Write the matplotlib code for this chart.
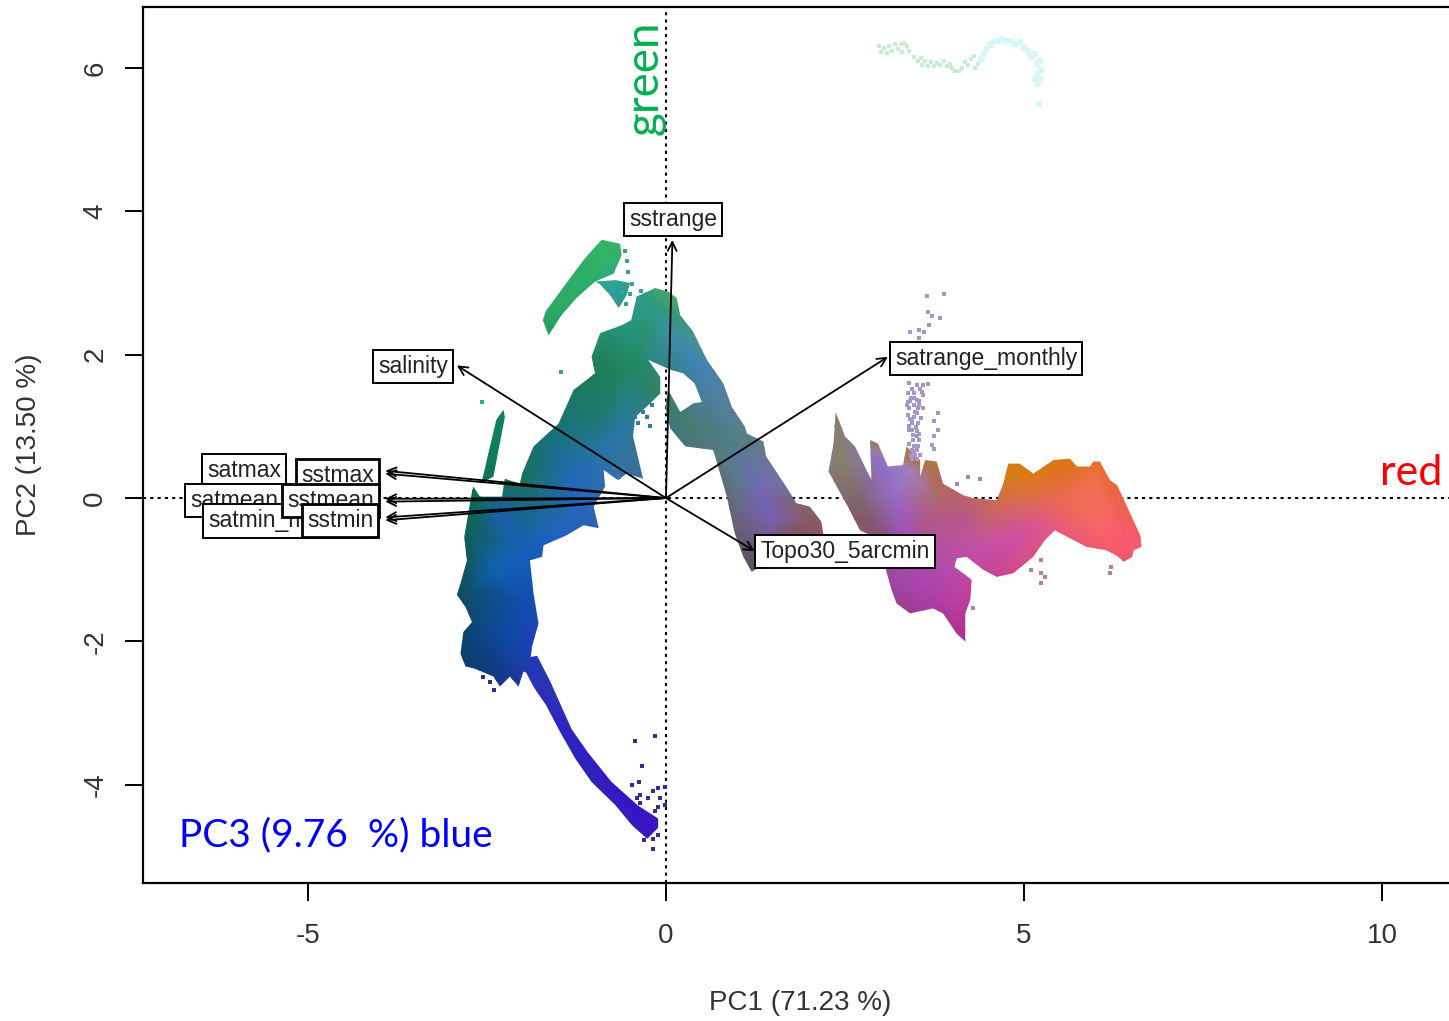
import numpy as np
import matplotlib
matplotlib.use('Agg')
import matplotlib.pyplot as plt
from matplotlib.collections import TriMesh
from matplotlib.colors import to_rgba
from matplotlib.patches import Polygon
from matplotlib.tri import Triangulation

# biplot loadings
var_names = ['satmax', 'satmean', 'satmin_monthly', 'sstmax', 'sstmean', 'sstmin',
             'salinity', 'sstrange', 'satrange_monthly', 'Topo30_5arcmin']
load_x = [-3.92, -3.92, -3.92, -3.92, -3.92, -3.92, -2.92, 0.09, 3.10, 1.24]
load_y = [0.34, -0.05, -0.31, 0.38, -0.01, -0.27, 1.85, 3.60, 1.97, -0.74]
label_x = [-5.89, -6.03, -5.27, -4.59, -4.68, -4.55, -3.53, 0.10, 4.47, 2.50]
label_y = [0.38, -0.04, -0.32, 0.31, -0.03, -0.31, 1.84, 3.88, 1.95, -0.74]

# outlines of the dense parts of the point cloud
streak_top = [(-0.90, 3.60), (-0.64, 3.55), (-0.62, 3.39), (-0.73, 3.13), (-0.99, 3.02),
              (-1.25, 2.79), (-1.46, 2.55), (-1.64, 2.27), (-1.72, 2.48), (-1.62, 2.79),
              (-1.46, 3.07), (-1.20, 3.27)]
wisp_top = [(-0.99, 3.02), (-0.70, 3.04), (-0.50, 3.00), (-0.55, 2.83), (-0.66, 2.65),
            (-0.78, 2.83), (-0.92, 2.98)]
streak_left = [(-2.27, 1.23), (-2.25, 1.13), (-2.41, 0.30), (-2.58, 0.20), (-2.53, 0.41),
               (-2.37, 1.09)]
left_mass = [(-0.41, 2.81), (-0.39, 2.53), (-0.62, 2.41), (-0.92, 2.30), (-1.04, 1.97),
             (-0.99, 1.74), (-1.29, 1.51), (-1.50, 1.04), (-1.85, 0.72), (-2.01, 0.34),
             (-2.04, 0.20), (-2.25, 0.27), (-2.29, 0.02), (-2.60, 0.02), (-2.69, 0.16),
             (-2.85, 0.23), (-2.78, -0.12), (-2.83, -0.45), (-2.78, -0.87), (-2.87, -1.19),
             (-2.92, -1.35), (-2.80, -1.52), (-2.71, -1.73), (-2.83, -1.87), (-2.87, -2.17),
             (-2.80, -2.35), (-2.67, -2.38), (-2.41, -2.49), (-2.32, -2.63), (-2.18, -2.49),
             (-2.06, -2.63), (-1.99, -2.42), (-1.92, -2.45), (-1.87, -2.07), (-1.78, -1.75),
             (-1.85, -1.33), (-1.90, -0.87), (-1.73, -0.82), (-1.71, -0.66), (-1.39, -0.52),
             (-1.15, -0.38), (-0.94, -0.42), (-1.01, -0.12), (-0.85, 0.16), (-0.87, 0.39),
             (-0.67, 0.25), (-0.55, 0.34), (-0.32, 0.27), (-0.46, 0.86), (-0.43, 1.13),
             (-0.22, 1.32), (-0.08, 1.46), (-0.08, 1.69), (-0.25, 1.93), (-0.10, 2.30)]
tail = [(-2.05, -2.25), (-1.80, -2.20), (-1.62, -2.55), (-1.32, -3.22), (-1.09, -3.55),
        (-0.76, -3.96), (-0.39, -4.29), (-0.11, -4.47), (-0.11, -4.60), (-0.27, -4.76),
        (-0.43, -4.62), (-0.71, -4.28), (-1.04, -3.96), (-1.27, -3.63), (-1.48, -3.26),
        (-1.68, -2.88), (-1.85, -2.63)]
right_arm = [(-0.41, 2.81), (-0.15, 2.93), (0.03, 2.88), (0.15, 2.79), (0.20, 2.55),
             (0.38, 2.32), (0.57, 1.93), (0.80, 1.60), (0.92, 1.27), (1.10, 1.00),
             (1.13, 0.90), (1.36, 0.79), (1.40, 0.58), (1.71, 0.11), (1.82, -0.07),
             (2.01, -0.12), (2.17, -0.33), (2.20, -0.52), (1.60, -0.75), (1.24, -1.00),
             (1.20, -1.03), (1.08, -0.82), (0.96, -0.49), (0.85, 0.02), (0.66, 0.67),
             (0.27, 0.72), (0.06, 0.97), (-0.01, 1.27), (0.03, 1.51), (0.20, 1.20),
             (0.38, 1.32), (0.50, 1.34), (0.40, 1.60), (0.24, 1.74), (0.06, 1.79),
             (-0.25, 1.93), (-0.55, 2.20)]
right_mass = [(2.37, 1.20), (2.50, 0.86), (2.64, 0.72), (2.87, 0.25), (2.85, 0.81),
              (2.96, 0.76), (3.10, 0.44), (3.31, 0.46), (3.36, 0.72), (3.55, 0.53),
              (3.55, 0.30), (3.62, 0.53), (3.78, 0.51), (3.87, 0.20), (4.15, 0.04),
              (4.29, 0.00), (4.62, -0.03), (4.71, 0.20), (4.78, 0.48), (4.94, 0.48),
              (5.13, 0.34), (5.41, 0.53), (5.64, 0.55), (5.74, 0.44), (5.92, 0.44),
              (5.97, 0.51), (6.06, 0.51), (6.20, 0.25), (6.46, 0.07), (6.55, -0.12),
              (6.62, -0.40), (6.64, -0.68), (6.53, -0.73), (6.48, -0.96), (6.29, -0.80),
              (6.15, -0.73), (5.87, -0.68), (5.64, -0.56), (5.43, -0.45), (5.29, -0.59),
              (5.13, -0.82), (4.85, -1.05), (4.62, -1.10), (4.43, -1.00), (4.20, -0.82),
              (4.06, -0.84), (4.03, -0.96), (4.27, -1.14), (4.25, -1.42), (4.18, -1.61),
              (4.18, -2.00), (4.06, -1.89), (3.87, -1.61), (3.73, -1.54), (3.41, -1.61),
              (3.22, -1.47), (3.15, -1.28), (3.06, -0.96), (2.90, -0.54), (2.71, -0.45),
              (2.54, -0.12), (2.27, 0.37), (2.34, 0.76)]
outlines = [streak_top, wisp_top, streak_left, left_mass, tail, right_arm, right_mass]

# colours sampled from the cloud (x, y, colour)
sample_x = [-0.75, -1.5, -0.7, -0.15, 0.1, 0.4, -0.46, -0.9, -0.9, -0.6, -1.6, -1.0, -1.3,
            -2.0, -2.7, -2.4, -2.3, -1.3, -2.7, -2.0, -2.4, -2.85, -2.0, -2.8, -2.3, -2.0,
            -2.4, -1.8, -1.2, -0.5, -0.2, 0.7, 0.4, 0.9, 1.0, 1.3, 1.0, 1.5, 1.2, 2.0,
            2.37, 2.5, 2.7, 2.85, 3.0, 3.2, 3.4, 3.3, 3.7, 3.8, 3.65, 4.2, 4.3, 3.5, 4.0,
            4.15, 4.6, 5.0, 4.7, 4.85, 5.4, 5.6, 6.0, 6.0, 6.4, 6.3, 5.7, 5.2,
            -2.95, -2.3, -1.75, -0.9, -0.2, 4.2, 6.7, 6.1, -2.9]
sample_y = [3.4, 2.6, 2.95, 2.7, 2.3, 1.9, 1.88, 1.9, 1.2, 1.0, 0.8, 0.5, 0.3,
            0.2, 0.1, 0.8, -0.2, -0.3, -0.5, -0.7, -1.0, -1.3, -1.4, -2.1, -1.9, -2.3,
            -2.4, -2.7, -3.5, -4.3, -4.6, 1.4, 0.95, 0.8, 0.3, 0.1, -0.4, -0.3, -0.95, -0.3,
            1.0, 0.5, 0.0, -0.3, 0.5, 0.0, 0.4, -0.5, 0.4, 0.0, -0.3, -0.2, -0.7, -1.2, -1.5,
            -1.9, -1.0, -0.5, 0.0, 0.35, 0.0, 0.4, 0.2, -0.3, -0.5, -0.8, -0.4, -0.3,
            -1.35, 1.3, 2.5, 3.65, -4.8, -2.05, -0.7, 0.6, -2.4]
sample_col = ['#33b565', '#2aa868', '#2f9fa0', '#2f9a80', '#3d8fa8', '#3d82b5', '#1f8a60',
              '#208055', '#1f7a70', '#2878a0', '#1a6f80', '#2a70b0', '#2268b8', '#1a7060',
              '#107050', '#108060', '#1a60a8', '#2565c0', '#116060', '#1860b8', '#1060b0',
              '#0f4f5f', '#1050b0', '#0c3f70', '#0f48a0', '#1a40a8', '#103a80', '#2a30b8',
              '#3020c8', '#3a10c8', '#3a18c0', '#4f7f9f', '#4a7a70', '#4f7f88', '#5f7a90',
              '#7068b8', '#6a6075', '#7a60b0', '#5f4f60', '#8a5a60', '#8a8070', '#858070',
              '#7d6a70', '#805a68', '#9070c8', '#9a68c8', '#a080c0', '#a050b8', '#b07050',
              '#b06868', '#b05a88', '#b85a80', '#c050a8', '#a845b0', '#b83fa0', '#b03090',
              '#c84898', '#d050a0', '#d07048', '#d88010', '#e86a50', '#e07020', '#f07050',
              '#f56a60', '#f85a70', '#f55a70', '#ee6070', '#dc5a80', '#0f4f5f', '#108060',
              '#2aa868', '#33b565', '#3a18c0', '#b03090', '#f85a70', '#e07020', '#0c3f70']

# stray points outside the dense parts
violet_x = [3.64, 3.88, 3.66, 3.71, 3.83, 3.68, 3.54, 3.61, 3.41, 3.53, 3.40, 3.50, 3.59, 3.66,
            3.38, 3.47, 3.57, 3.38, 3.50, 3.59, 3.40, 3.52, 3.59, 3.38, 3.47, 3.43, 3.52, 3.40,
            3.50, 3.45, 3.54, 3.43, 3.50, 3.80, 3.75, 3.80, 3.75, 3.71, 3.75, 3.44, 3.55, 3.42,
            3.53, 3.46, 3.36, 3.48, 3.56, 3.41, 3.49, 3.39, 3.45, 3.46, 3.52, 3.42, 3.48, 3.55,
            3.44, 3.50, 3.40, 3.47, 3.53, 3.44, 3.50, 3.41, 3.47, 3.53, 3.44, 3.50]
violet_y = [2.82, 2.85, 2.60, 2.54, 2.51, 2.41, 2.34, 2.32, 2.31, 2.23, 1.60, 1.58, 1.58, 1.59,
            1.46, 1.46, 1.48, 1.34, 1.37, 1.44, 1.25, 1.25, 1.25, 1.16, 1.13, 1.04, 1.04, 0.95,
            0.93, 0.81, 0.81, 0.67, 0.67, 1.18, 1.07, 0.95, 0.86, 0.74, 0.69, 1.52, 1.52, 1.40,
            1.30, 1.30, 1.30, 1.20, 1.12, 1.10, 0.99, 1.00, 0.88, 0.73, 0.73, 0.60, 0.60, 0.60,
            0.54, 0.54, 0.76, 0.66, 0.90, 1.08, 1.18, 1.36, 1.40, 1.36, 0.95, 0.87]
pink_x = [4.22, 4.38, 4.06, 5.24, 5.24, 5.29, 5.24, 5.10, 6.22, 6.20, 4.29]
pink_y = [0.30, 0.27, 0.20, -0.87, -1.05, -1.10, -1.19, -1.00, -0.96, -1.05, -1.54]
indigo_x = [-0.15, -0.43, -0.33, -0.38, -0.48, -0.01, -0.11, -0.18, -0.08, -0.25, -0.41, -0.36,
            -0.36, -0.01, -0.11, -0.15, -0.11, -0.18, -0.31, -0.18, -2.55, -2.46, -2.40]
indigo_y = [-3.32, -3.39, -3.74, -3.96, -4.00, -4.03, -4.04, -4.08, -4.18, -4.18, -4.19, -4.14,
            -4.26, -4.28, -4.31, -4.36, -4.70, -4.75, -4.77, -4.90, -2.49, -2.56, -2.68]
teal_x = [-0.57, -0.55, -0.53, -0.35, -0.47, -0.50, -0.56, -1.46, -2.57, -0.70, -0.62]
teal_y = [3.44, 3.30, 3.16, 2.89, 2.98, 2.85, 2.70, 1.76, 1.34, 2.78, 2.87]
speck_x = [-0.43, -0.32, -0.39, -0.22, -0.20, -0.27, -0.60, -0.72, -0.66]
speck_y = [1.13, 1.20, 1.04, 1.00, 1.30, 1.13, 0.42, 0.42, 0.30]
mint_x = [2.98, 3.00, 3.05, 3.08, 3.12, 3.16, 3.20, 3.24, 3.28, 3.33, 3.36, 3.30, 3.40, 3.47,
          3.52, 3.56, 3.58, 3.62, 3.66, 3.70, 3.74, 3.78, 3.83, 3.88, 3.92, 3.96, 4.00, 4.04,
          4.09, 4.13, 4.17, 4.22, 4.26, 4.31, 4.36, 4.30]
mint_y = [6.30, 6.22, 6.28, 6.21, 6.30, 6.24, 6.33, 6.27, 6.33, 6.35, 6.30, 6.22, 6.24, 6.15,
          6.10, 6.14, 6.04, 6.10, 6.03, 6.08, 6.02, 6.07, 6.04, 6.09, 6.03, 6.06, 6.00, 5.96,
          5.96, 6.00, 6.08, 6.04, 6.12, 6.00, 6.05, 6.17]
cyan_x = [4.40, 4.44, 4.48, 4.53, 4.58, 4.64, 4.70, 4.76, 4.82, 4.88, 4.94, 5.00, 5.05, 5.10,
          5.15, 5.18, 5.22, 5.24, 5.18, 5.22, 5.15, 5.20, 5.21]
cyan_y = [6.12, 6.20, 6.27, 6.32, 6.36, 6.38, 6.40, 6.37, 6.38, 6.34, 6.36, 6.28, 6.24, 6.15,
          6.20, 6.05, 6.10, 5.97, 5.92, 5.85, 5.83, 5.78, 5.49]

plt.rcParams['font.family'] = ['Liberation Sans', 'DejaVu Sans']
plt.rcParams['axes.unicode_minus'] = False

fig = plt.figure(figsize=(14.49, 10.21), dpi=100)
ax = fig.add_axes([143 / 1449, 1 - 883 / 1021, 1306 / 1449, 876 / 1021])

ax.axhline(0, color='black', lw=1.5, ls=(0, (1.5, 2)), zorder=0)
ax.axvline(0, color='black', lw=1.5, ls=(0, (1.5, 2)), zorder=0)

tri = Triangulation(sample_x, sample_y)
rgba = np.array([to_rgba(c) for c in sample_col])
for outline in outlines:
    poly = Polygon(outline, closed=True, transform=ax.transData)
    mesh = TriMesh(tri, zorder=1)
    mesh.set_facecolor(rgba)
    ax.add_collection(mesh)
    mesh.set_clip_path(poly)

ax.scatter(violet_x, violet_y, s=11, marker='s', color='#a596c8', lw=0, zorder=1)
ax.scatter(pink_x, pink_y, s=7, marker='s', color='#b080a8', lw=0, zorder=1)
ax.scatter(indigo_x, indigo_y, s=7, marker='s', color='#3a2a90', lw=0, zorder=1)
ax.scatter(teal_x, teal_y, s=7, marker='s', color='#3a9fa0', lw=0, zorder=1)
ax.scatter(speck_x, speck_y, s=9, marker='s', color='#2f80a0', lw=0, zorder=1)
ax.scatter(mint_x, mint_y, s=9, marker='s', color='#c4f0d0', lw=0, zorder=1)
ax.scatter(cyan_x, cyan_y, s=14, marker='s', color='#d5f7f8', lw=0, zorder=1)

for i in range(len(var_names)):
    ax.annotate('', xy=(load_x[i], load_y[i]), xytext=(0, 0),
                arrowprops=dict(arrowstyle='->', color='black', lw=1.3,
                                shrinkA=0, shrinkB=0, mutation_scale=16), zorder=3)

for i in range(len(var_names)):
    name = var_names[i]
    thick = name.startswith('sst') and name != 'sstrange'
    ax.text(label_x[i], label_y[i], name, ha='center', va='center', fontsize=16.5,
            color='#222222', zorder=4 + i * 0.1,
            bbox=dict(boxstyle='square,pad=0.22', fc='white', ec='black',
                      lw=2.0 if thick else 1.4))

ax.set_xlim(-7.304, 10.936)
ax.set_ylim(-5.37, 6.85)
ax.set_xticks([-5, 0, 5, 10])
ax.set_yticks([-4, -2, 0, 2, 4, 6])
ax.tick_params(axis='both', length=13, width=1.4, labelsize=20, labelcolor='#333333')
ax.tick_params(axis='x', pad=16)
ax.tick_params(axis='y', pad=12)
for t in ax.get_yticklabels():
    t.set_rotation(90)
    t.set_va('center')
ax.spines['right'].set_visible(False)
for s in ['top', 'left', 'bottom']:
    ax.spines[s].set_linewidth(1.6)

ax.set_xlabel('PC1 (71.23 %)', fontsize=20, color='#333333', va='center')
ax.xaxis.set_label_coords(0.503, -0.137)
ax.set_ylabel('PC2 (13.50 %)', fontsize=20, color='#333333')
ax.yaxis.set_label_coords(-0.0775, 0.5)

ax.text(0.0, 5.87, 'green', rotation=90, ha='right', va='center', fontsize=33,
        color='#00b050', family='Lato')
ax.text(9.97, 0.35, 'red', ha='left', va='center', fontsize=31, color='#ff0000',
        family='Lato', clip_on=False)
ax.text(-6.8, -4.7, 'PC3 (9.76  %) blue', ha='left', va='center', fontsize=28,
        color='#0000ff', family='Lato')

plt.savefig('out.png', dpi=100)
